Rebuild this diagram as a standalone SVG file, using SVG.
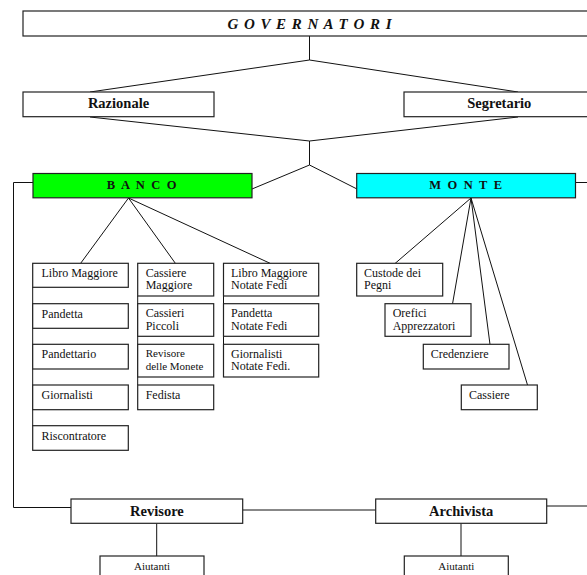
<svg xmlns="http://www.w3.org/2000/svg" width="587" height="575" viewBox="0 0 587 575">
<style>
rect{fill:#fff;stroke:#222;stroke-width:1.2}
.c line,.c polyline{stroke:#111;stroke-width:1;fill:none}
text{font-family:"Liberation Serif","Times New Roman",serif;fill:#111}
.h{font-weight:bold;font-size:14.5px;text-anchor:middle}
.s{font-size:12px}
.t{font-size:11px}
</style>
<rect x="0" y="0" width="587" height="575" style="fill:#fff;stroke:none"/>
<g class="c" id="connectors">
<polyline points="309.5,36 309.5,60"/>
<line x1="309.5" y1="60" x2="90" y2="92"/>
<line x1="309.5" y1="60" x2="518" y2="92"/>
<line x1="90" y1="117" x2="309.5" y2="141"/>
<line x1="518" y1="117" x2="309.5" y2="141"/>
<polyline points="309.5,141 309.5,165"/>
<line x1="309.5" y1="165" x2="252" y2="189"/>
<line x1="309.5" y1="165" x2="357" y2="189"/>
<polyline points="33,182.5 13.5,182.5 13.5,507.5 71,507.5"/>
<line x1="575.5" y1="182.5" x2="587" y2="182.5"/>
<line x1="128.5" y1="198" x2="80.5" y2="263.5"/>
<line x1="128.5" y1="198" x2="175.5" y2="263.5"/>
<line x1="128.5" y1="198" x2="270.5" y2="263.5"/>
<line x1="32.7" y1="287" x2="32.7" y2="426"/>
<line x1="137.7" y1="296" x2="137.7" y2="385"/>
<line x1="223.5" y1="296" x2="223.5" y2="344"/>
<line x1="471" y1="198" x2="395" y2="263.5"/>
<line x1="471" y1="198" x2="452.5" y2="304"/>
<line x1="471" y1="198" x2="490" y2="344.5"/>
<line x1="471" y1="198" x2="527.5" y2="385"/>
<line x1="242.7" y1="510" x2="375.7" y2="510"/>
<line x1="546.7" y1="506" x2="587" y2="506"/>
<line x1="156.7" y1="523.5" x2="156.7" y2="556"/>
<line x1="461" y1="523.5" x2="461" y2="556"/>
</g>
<g id="governatori"><rect x="23" y="11" width="575" height="25"/><text x="310" y="28.5" class="h" style="font-style:italic;font-size:15px;letter-spacing:1px">G O V E R N A T O R I</text></g>
<g id="razionale"><rect x="23" y="92" width="191" height="24.7"/><text x="118.5" y="108.3" class="h">Razionale</text></g>
<g id="segretario"><rect x="404" y="92" width="191" height="24.7"/><text x="499.3" y="108.3" class="h">Segretario</text></g>
<g id="banco"><rect x="33" y="173.5" width="219" height="24.3" style="fill:#00ff00"/><text x="142.5" y="189" class="h" style="font-size:12.5px;letter-spacing:1.7px">B A N C O</text></g>
<g id="monte"><rect x="356.7" y="173.5" width="218.8" height="24.3" style="fill:#00ffff"/><text x="466.5" y="189" class="h" style="font-size:12.5px;letter-spacing:1.7px">M O N T E</text></g>
<g id="libro-maggiore"><rect x="32.7" y="263.3" width="95.6" height="24"/><text x="41.5" y="277.3" class="s">Libro Maggiore</text></g>
<g id="pandetta"><rect x="32.7" y="303.7" width="95.6" height="24.6"/><text x="41.5" y="317.5" class="s">Pandetta</text></g>
<g id="pandettario"><rect x="32.7" y="344.3" width="95.6" height="24.7"/><text x="41.5" y="358.3" class="s">Pandettario</text></g>
<g id="giornalisti"><rect x="32.7" y="385" width="95.6" height="24.7"/><text x="41.5" y="399" class="s">Giornalisti</text></g>
<g id="riscontratore"><rect x="32.7" y="425.7" width="95.6" height="24.6"/><text x="41.5" y="439.7" class="s">Riscontratore</text></g>
<g id="cassiere-maggiore"><rect x="137.7" y="263.3" width="76" height="32.7"/><text x="145.7" y="276.5" class="s">Cassiere</text><text x="145.7" y="289.3" class="s">Maggiore</text></g>
<g id="cassieri-piccoli"><rect x="137.7" y="303.7" width="76" height="32.6"/><text x="145.7" y="316.8" class="s">Cassieri</text><text x="145.7" y="329.6" class="s">Piccoli</text></g>
<g id="revisore-monete"><rect x="137.7" y="344.3" width="76" height="32.7"/><text x="145.7" y="357.3" class="t">Revisore</text><text x="145.7" y="370" class="t">delle Monete</text></g>
<g id="fedista"><rect x="137.7" y="385" width="76" height="24.7"/><text x="145.7" y="399" class="s">Fedista</text></g>
<g id="libro-notate"><rect x="223.5" y="263.3" width="95.2" height="32.7"/><text x="231" y="276.5" class="s">Libro Maggiore</text><text x="231" y="289.3" class="s">Notate Fedi</text></g>
<g id="pandetta-notate"><rect x="223.5" y="303.7" width="95.2" height="32.6"/><text x="231" y="316.8" class="s">Pandetta</text><text x="231" y="329.6" class="s">Notate Fedi</text></g>
<g id="giornalisti-notate"><rect x="223.5" y="344.3" width="95.2" height="32.7"/><text x="231" y="357.5" class="s">Giornalisti</text><text x="231" y="370.3" class="s">Notate Fedi.</text></g>
<g id="custode"><rect x="356.7" y="263.3" width="86" height="32.7"/><text x="364" y="276.5" class="s">Custode dei</text><text x="364" y="289.3" class="s">Pegni</text></g>
<g id="orefici"><rect x="385" y="303.7" width="86" height="32.6"/><text x="392.7" y="316.8" class="s">Orefici</text><text x="392.7" y="329.6" class="s">Apprezzatori</text></g>
<g id="credenziere"><rect x="423.3" y="344.3" width="85.7" height="24.7"/><text x="430.7" y="358.3" class="s">Credenziere</text></g>
<g id="cassiere"><rect x="461.3" y="385" width="76" height="24.7"/><text x="469" y="399" class="s">Cassiere</text></g>
<g id="revisore"><rect x="71" y="499" width="171.7" height="24.3"/><text x="156.9" y="516" class="h">Revisore</text></g>
<g id="archivista"><rect x="375.7" y="499" width="171" height="24.3"/><text x="461.2" y="516" class="h">Archivista</text></g>
<g id="aiutanti-1"><rect x="100" y="556" width="104" height="30"/><text x="152" y="570" class="t" text-anchor="middle">Aiutanti</text></g>
<g id="aiutanti-2"><rect x="404.3" y="556" width="104" height="30"/><text x="456.3" y="570" class="t" text-anchor="middle">Aiutanti</text></g>
</svg>
